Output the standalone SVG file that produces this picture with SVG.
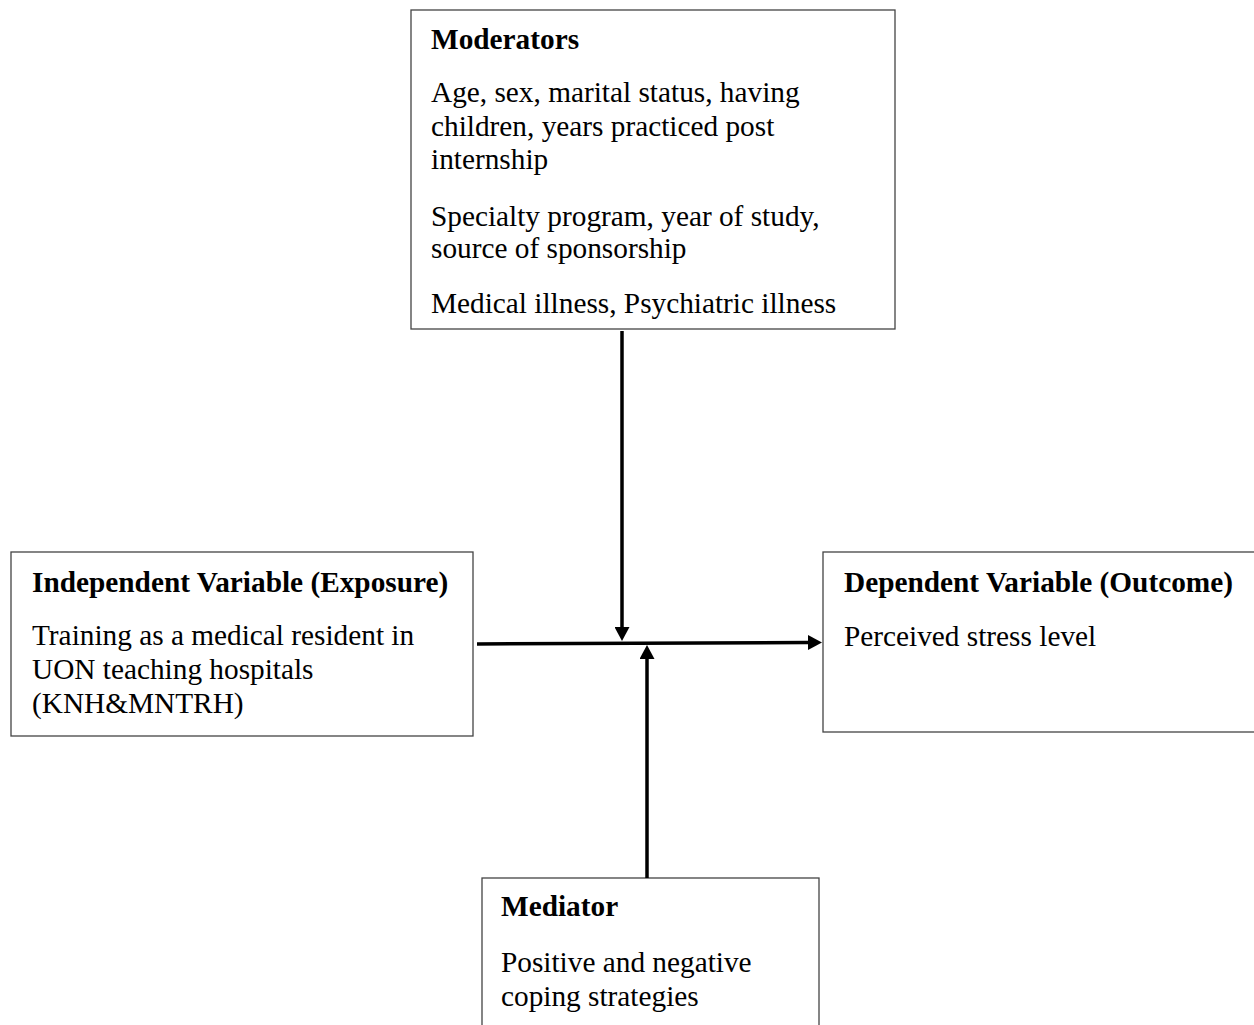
<svg xmlns="http://www.w3.org/2000/svg" width="1254" height="1025" viewBox="0 0 1254 1025">
<defs>
<style>
.box{fill:#fff;stroke:#444;stroke-width:1.3}
.t{font-family:"Liberation Serif","Times New Roman",serif;font-size:29.3px;fill:#000}
.b{font-weight:bold}
.c{stroke:#000;stroke-width:3.5;fill:none}
</style>
<marker id="ah" markerWidth="14" markerHeight="15" refX="0" refY="7.5" orient="auto" markerUnits="userSpaceOnUse">
<path d="M0,0 L14,7.5 L0,15 z" fill="#000"/>
</marker>
</defs>
<rect width="1254" height="1025" fill="#fff"/>
<g id="moderators">
<rect class="box" x="411" y="10" width="484" height="319"/>
<text class="t b" x="431" y="49">Moderators</text>
<text class="t" x="431" y="102">Age, sex, marital status, having</text>
<text class="t" x="431" y="136">children, years practiced post</text>
<text class="t" x="431" y="169">internship</text>
<text class="t" x="431" y="226">Specialty program, year of study,</text>
<text class="t" x="431" y="258">source of sponsorship</text>
<text class="t" x="431" y="313">Medical illness, Psychiatric illness</text>
</g>
<g id="independent">
<rect class="box" x="11" y="552" width="462" height="184"/>
<text class="t b" x="32" y="592">Independent Variable (Exposure)</text>
<text class="t" x="32" y="645">Training as a medical resident in</text>
<text class="t" x="32" y="679">UON teaching hospitals</text>
<text class="t" x="32" y="713">(KNH&amp;MNTRH)</text>
</g>
<g id="dependent">
<rect class="box" x="823" y="552" width="440" height="180"/>
<text class="t b" x="844" y="592">Dependent Variable (Outcome)</text>
<text class="t" x="844" y="646">Perceived stress level</text>
</g>
<g id="mediator">
<rect class="box" x="482" y="878" width="337" height="160"/>
<text class="t b" x="501" y="916">Mediator</text>
<text class="t" x="501" y="972">Positive and negative</text>
<text class="t" x="501" y="1006">coping strategies</text>
</g>
<g id="connectors">
<line class="c" x1="477" y1="644" x2="808" y2="642.5" marker-end="url(#ah)"/>
<line class="c" x1="622" y1="331" x2="622" y2="627" marker-end="url(#ah)"/>
<line class="c" x1="647" y1="878" x2="647" y2="659" marker-end="url(#ah)"/>
</g>
</svg>
